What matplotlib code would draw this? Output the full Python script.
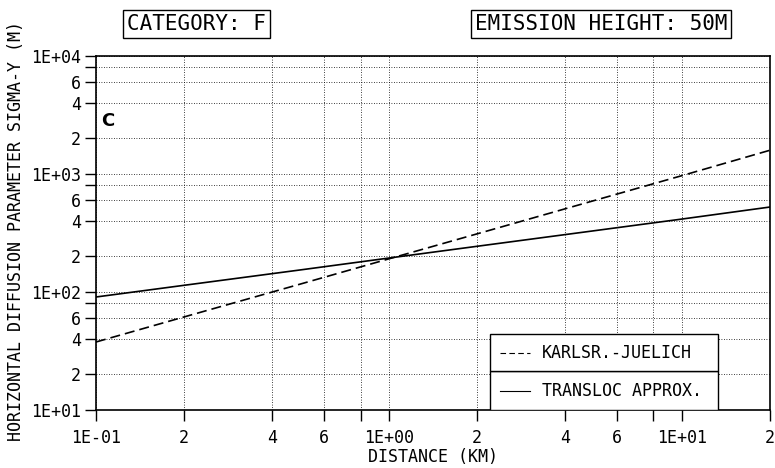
import numpy as np
import matplotlib.pyplot as plt
from matplotlib.patches import Rectangle

plt.rcParams['font.family'] = ['DejaVu Sans Mono']

# distance (km) and sigma-y (m)
dist = [0.1, 0.2, 0.5, 1.0, 2.0, 5.0, 10.0, 20.0]
sig_kj = [37.7, 61.5, 117, 191, 311, 594, 968, 1590]     # Karlsruhe-Juelich
sig_tl = [90.7, 114, 154, 194, 244, 330, 415, 525]       # TRANSLOC approx.

xticks = [0.1, 0.2, 0.4, 0.6, 0.8, 1, 2, 4, 6, 8, 10, 20]
xlabels = ["1E-01", "2", "4", "6", "", "1E+00", "2", "4", "6", "", "1E+01", "2"]
yticks = [10, 20, 40, 60, 80, 100, 200, 400, 600, 800,
          1000, 2000, 4000, 6000, 8000, 10000]
ylabels = ["1E+01", "2", "4", "6", "", "1E+02", "2", "4", "6", "",
           "1E+03", "2", "4", "6", "", "1E+04"]

fig = plt.figure(figsize=(7.75, 4.68), dpi=100)
ax = fig.add_axes([96/775, 1-410/468, 674/775, 354/468])
ax.set_xscale('log')
ax.set_yscale('log')
ax.set_xlim(0.1, 20)
ax.set_ylim(10, 10000)

ax.plot(dist, sig_kj, color='black', lw=1.2, ls=(0, (6, 3)))
ax.plot(dist, sig_tl, color='black', lw=1.2)

ax.xaxis.set_minor_locator(plt.NullLocator())
ax.yaxis.set_minor_locator(plt.NullLocator())
ax.set_xticks(xticks)
ax.set_xticklabels(xlabels, fontsize=12)
ax.set_yticks(yticks)
ax.set_yticklabels(ylabels, fontsize=12)
ax.tick_params(direction='out', length=8, width=1.0)
ax.tick_params(axis='x', pad=6)
ax.tick_params(axis='y', pad=3)
ax.grid(True, color='black', ls=(0, (1, 2)), lw=0.6)
for s in ax.spines.values():
    s.set_linewidth(1.2)

ax.text(0.007, 0.816, "C", transform=ax.transAxes, fontsize=13,
        fontweight='bold', family='DejaVu Sans', va='center')

# legend box drawn by hand (two boxed rows)
lx0, lx1 = (490-96)/674, (718-96)/674
ly0, lym, ly1 = 0.0, (410-371)/354, (410-334)/354
for yb, yt in [(ly0, lym), (lym, ly1)]:
    ax.add_patch(Rectangle((lx0, yb), lx1-lx0, yt-yb, transform=ax.transAxes,
                           facecolor='white', edgecolor='black', lw=1.0, zorder=5))
hx = [(500-96)/674, (530-96)/674]
ymid1 = (lym + ly1) / 2
ymid2 = (ly0 + lym) / 2
ax.plot(hx, [ymid1, ymid1], transform=ax.transAxes, color='black', lw=0.8,
        ls=(0, (5, 3)), zorder=6)
ax.plot(hx, [ymid2, ymid2], transform=ax.transAxes, color='black', lw=0.8, zorder=6)
tx = (542-96)/674
ax.text(tx, ymid1, "KARLSR.-JUELICH", transform=ax.transAxes,
        fontsize=12, va='center', zorder=6)
ax.text(tx, ymid2, "TRANSLOC APPROX.", transform=ax.transAxes,
        fontsize=12, va='center', zorder=6)

box = dict(boxstyle='square,pad=0.18', facecolor='white', edgecolor='black', lw=1.0)
fig.text(127/775, 1-24/468, "CATEGORY: F", fontsize=15, va='center', bbox=box)
fig.text(475/775, 1-24/468, "EMISSION HEIGHT: 50M", fontsize=15, va='center', bbox=box)

fig.text(16/775, 1-231/468, "HORIZONTAL DIFFUSION PARAMETER SIGMA-Y (M)",
         rotation=90, fontsize=12, ha='center', va='center')
fig.text(433/775, 1-457/468, "DISTANCE (KM)", fontsize=12, ha='center', va='center')

fig.savefig("out.png", dpi=100)
